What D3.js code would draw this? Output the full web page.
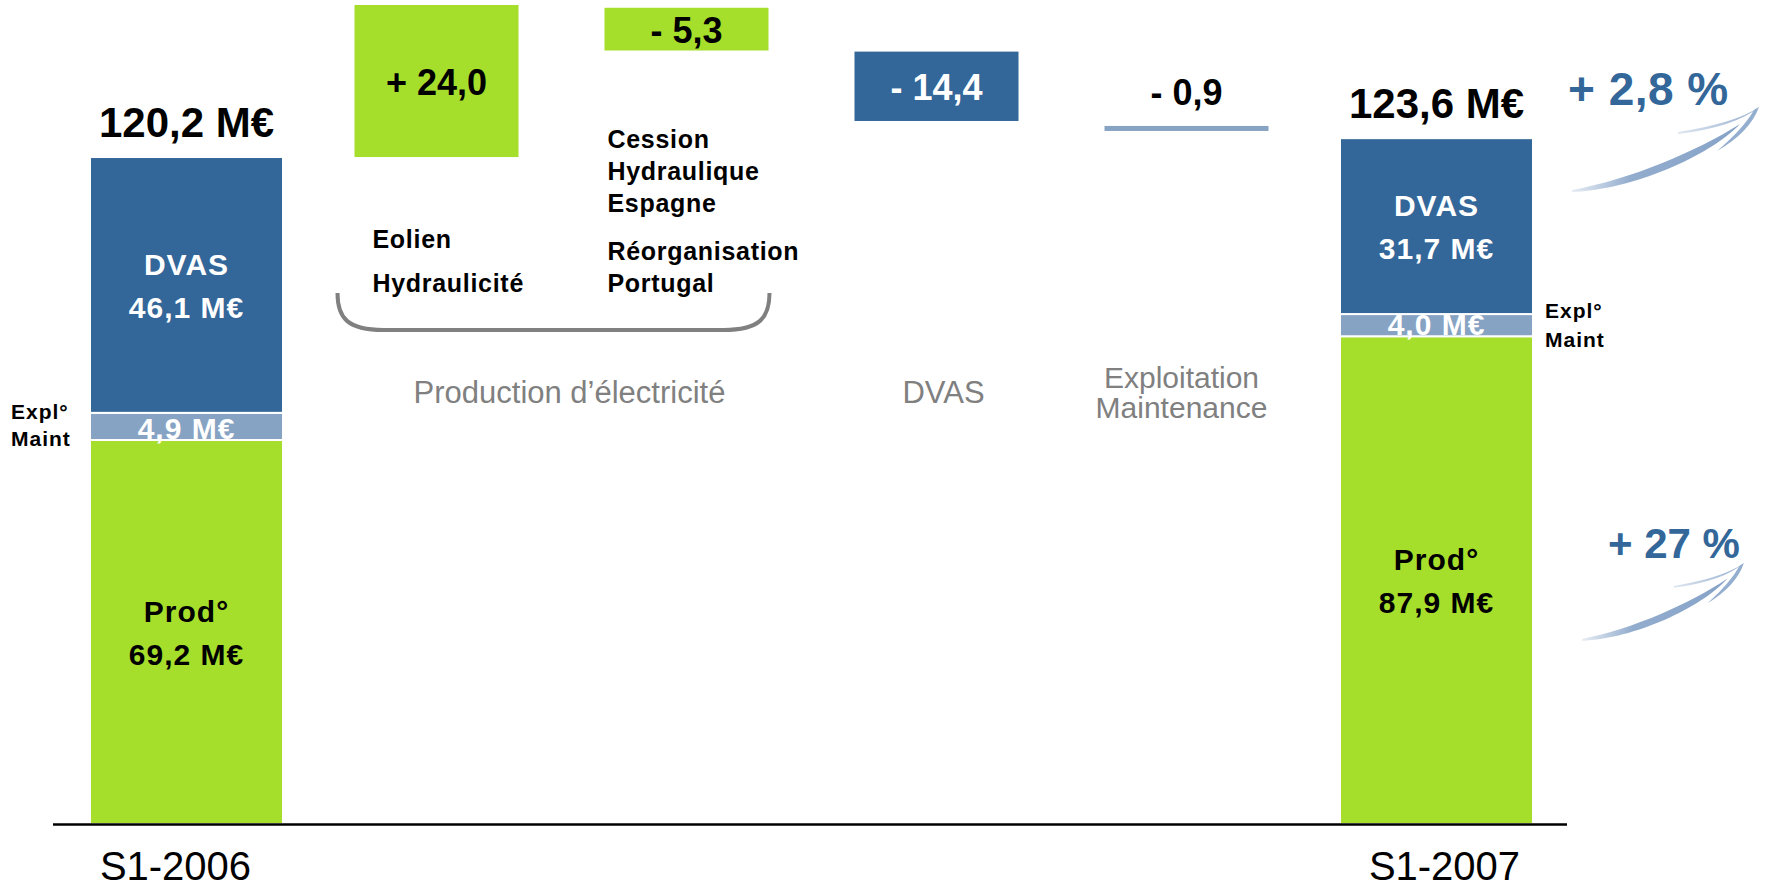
<!DOCTYPE html>
<html>
<head>
<meta charset="utf-8">
<script src="https://cdn.jsdelivr.net/npm/d3@7"></script>
<style>
  html, body { margin: 0; padding: 0; background: #ffffff; }
  svg { display: block; }
</style>
</head>
<body>
<script>
// ---------------- data ----------------
const periods = ["S1-2006", "S1-2007"];
const segmentKeys = ["prod", "expl", "dvas"];
const segmentNames = { prod: "Prod°", expl: "Expl° Maint", dvas: "DVAS" };
const prodValues = [69.2, 87.9];
const explValues = [4.9, 4.0];
const dvasValues = [46.1, 31.7];

const stepKeys = ["eolien", "cession", "dvasStep", "explStep"];
const stepValues = [24.0, -5.3, -14.4, -0.9];
// drawn extents of the floating bars (the original is not to scale)
const stepFrom = [120.2, 147.1, 139.2, 125.8];
const stepTo = [147.6, 139.4, 126.7, 124.9];
const stepKinds = ["prod", "prod", "dvas", "expl"];

const stepNotesLeft = ["Eolien", "Hydraulicité"];
const stepNotesRight = ["Cession", "Hydraulique", "Espagne", "Réorganisation", "Portugal"];
const groupLabels = ["Production d’électricité", "DVAS", "Exploitation\nMaintenance"];
const growthLabels = ["+ 2,8 %", "+ 27 %"];
const sideLabel = ["Expl°", "Maint"];

// ---------------- setup ----------------
const W = 1769, H = 889;
const FONT = "'Liberation Sans', Arial, Helvetica, sans-serif";
const colors = { prod: "#A6DE2C", expl: "#87A3C3", dvas: "#336699" };
const blue = "#336699";
const fmt = v => d3.format(".1f")(v).replace(".", ",");

const svg = d3.select("body").append("svg")
  .attr("width", W).attr("height", H)
  .style("font-family", FONT);

const defs = svg.append("defs");
const grad = defs.append("linearGradient").attr("id", "swg")
  .attr("x1", "0").attr("y1", "0").attr("x2", "1").attr("y2", "0");
grad.append("stop").attr("offset", "0").attr("stop-color", "#86A3C8").attr("stop-opacity", 0.2);
grad.append("stop").attr("offset", "0.35").attr("stop-color", "#86A3C8").attr("stop-opacity", 0.9);
grad.append("stop").attr("offset", "1").attr("stop-color", "#86A3C8").attr("stop-opacity", 1);
const grad2 = defs.append("linearGradient").attr("id", "swg2")
  .attr("x1", "0").attr("y1", "0").attr("x2", "1").attr("y2", "0");
grad2.append("stop").attr("offset", "0").attr("stop-color", "#94AECF").attr("stop-opacity", 0.3);
grad2.append("stop").attr("offset", "1").attr("stop-color", "#94AECF").attr("stop-opacity", 1);

const slots = [periods[0], ...stepKeys, periods[1]];
const x = d3.scalePoint().domain(slots).range([186.5, 1436.5]);
const y = d3.scaleLinear().domain([0, 148.5]).range([824, 0]);
const totalW = 193, stepW = 164;

// ---------------- stacked total bars ----------------
const table = periods.map((p, i) => ({
  period: p, prod: prodValues[i], expl: explValues[i], dvas: dvasValues[i]
}));
const stacked = d3.stack().keys(segmentKeys)(table);

const gBars = svg.append("g");
stacked.forEach(series => {
  gBars.selectAll(null).data(series).enter().append("rect")
    .attr("x", d => x(d.data.period) - totalW / 2)
    .attr("width", totalW)
    .attr("y", d => y(d[1]))
    .attr("height", d => y(d[0]) - y(d[1]))
    .attr("fill", colors[series.key])
    .attr("stroke", "#ffffff")
    .attr("stroke-width", 2);
});

// segment labels
const segLabelStyle = sel => sel
  .attr("text-anchor", "middle")
  .attr("font-weight", "bold")
  .attr("font-size", 30)
  .attr("letter-spacing", 1);

stacked.forEach(series => {
  series.forEach(d => {
    const cx = x(d.data.period);
    const top = y(d[1]), bot = y(d[0]);
    const mid = (top + bot) / 2;
    const val = fmt(d[1] - d[0]) + " M€";
    if (series.key === "expl") {
      gBars.append("text").call(segLabelStyle)
        .attr("x", cx).attr("y", bot - 1.5)
        .attr("fill", "#ffffff").text(val);
    } else {
      const col = series.key === "dvas" ? "#ffffff" : "#000000";
      gBars.append("text").call(segLabelStyle)
        .attr("x", cx).attr("y", mid - 10).attr("fill", col)
        .text(segmentNames[series.key]);
      gBars.append("text").call(segLabelStyle)
        .attr("x", cx).attr("y", mid + 33).attr("fill", col)
        .text(val);
    }
  });
});

// total labels
table.forEach(d => {
  const total = d.prod + d.expl + d.dvas;
  svg.append("text")
    .attr("x", x(d.period)).attr("y", y(total) - 20)
    .attr("text-anchor", "middle")
    .attr("font-weight", "bold").attr("font-size", 42)
    .attr("fill", "#000").text(fmt(total) + " M€");
});

// side labels "Expl° / Maint"
table.forEach((d, i) => {
  const mid = (y(d.prod) + y(d.prod + d.expl)) / 2;
  const sx = i === 0 ? 11 : x(d.period) + totalW / 2 + 12;
  sideLabel.forEach((t, j) => {
    svg.append("text")
      .attr("x", sx).attr("y", mid - 7 + j * (i === 0 ? 27 : 29))
      .attr("font-weight", "bold").attr("font-size", 21)
      .attr("letter-spacing", 1)
      .attr("fill", "#000").text(t);
  });
});

// ---------------- floating step bars ----------------
const steps = stepKeys.map((k, i) => ({
  key: k, value: stepValues[i], from: stepFrom[i], to: stepTo[i], kind: stepKinds[i]
}));
const gSteps = svg.append("g");
gSteps.selectAll("rect").data(steps).enter().append("rect")
  .attr("x", d => x(d.key) - stepW / 2)
  .attr("width", stepW)
  .attr("y", d => y(Math.max(d.from, d.to)))
  .attr("height", d => Math.abs(y(d.from) - y(d.to)))
  .attr("fill", d => colors[d.kind]);

gSteps.selectAll("text").data(steps).enter().append("text")
  .attr("x", d => x(d.key))
  .attr("y", d => {
    const top = y(Math.max(d.from, d.to)), bot = y(Math.min(d.from, d.to));
    return (bot - top) > 30 ? (top + bot) / 2 + 14 : top - 21;
  })
  .attr("text-anchor", "middle")
  .attr("font-weight", "bold").attr("font-size", 36)
  .attr("fill", d => d.kind === "dvas" ? "#ffffff" : "#000000")
  .text(d => (d.value > 0 ? "+ " : "- ") + fmt(Math.abs(d.value)));

// step notes
const noteStyle = sel => sel
  .attr("font-weight", "bold").attr("font-size", 25)
  .attr("letter-spacing", 0.7).attr("fill", "#000");
const nxL = x(stepKeys[0]) - stepW / 2 + 18;
[248, 292].forEach((by, j) => {
  svg.append("text").call(noteStyle).attr("x", nxL).attr("y", by).text(stepNotesLeft[j]);
});
const nxR = x(stepKeys[1]) - stepW / 2 + 3;
[148, 180, 212, 260, 292].forEach((by, j) => {
  svg.append("text").call(noteStyle).attr("x", nxR).attr("y", by).text(stepNotesRight[j]);
});

// brace under the production steps
const bL = x(stepKeys[0]) - stepW / 2 - 17;
const bR = x(stepKeys[1]) + stepW / 2 + 1;
svg.append("path")
  .attr("d", `M${bL},293 C${bL},318 ${bL + 10},330 ${bL + 46},330 L${bR - 46},330 C${bR - 10},330 ${bR},318 ${bR},293`)
  .attr("fill", "none").attr("stroke", "#808080").attr("stroke-width", 4);

// group labels (gray)
const grayStyle = sel => sel
  .attr("text-anchor", "middle").attr("font-size", 31).attr("fill", "#808080");
svg.append("text").call(grayStyle)
  .attr("x", (x(stepKeys[0]) + x(stepKeys[1])) / 2 + 8).attr("y", 403)
  .text(groupLabels[0]);
svg.append("text").call(grayStyle)
  .attr("x", x(stepKeys[2]) + 7).attr("y", 403).text(groupLabels[1]);
groupLabels[2].split("\n").forEach((t, j) => {
  svg.append("text").call(grayStyle)
    .attr("font-size", 30)
    .attr("x", x(stepKeys[3]) - 5).attr("y", 388 + j * 30).text(t);
});

// ---------------- baseline & period labels ----------------
svg.append("line")
  .attr("x1", 53).attr("x2", 1567)
  .attr("y1", y(0) + 0.5).attr("y2", y(0) + 0.5)
  .attr("stroke", "#000").attr("stroke-width", 2.5);

const periodOffsets = [-11, 8];
periods.forEach((p, i) => {
  svg.append("text")
    .attr("x", x(p) + periodOffsets[i]).attr("y", 880)
    .attr("text-anchor", "middle").attr("font-size", 40)
    .attr("fill", "#000").text(p);
});

// ---------------- growth annotations ----------------
const rightEdge = x(periods[1]) + totalW / 2;
svg.append("text")
  .attr("x", rightEdge + 35).attr("y", 105)
  .attr("font-weight", "bold").attr("font-size", 46).attr("letter-spacing", 0.5)
  .attr("fill", blue).text(growthLabels[0]);
svg.append("text")
  .attr("x", rightEdge + 75).attr("y", 558)
  .attr("font-weight", "bold").attr("font-size", 42)
  .attr("fill", blue).text(growthLabels[1]);

function swoosh(tx, ty, sx, sy) {
  const g = svg.append("g").attr("transform", `translate(${tx},${ty}) scale(${sx},${sy})`);
  g.append("path")
    .attr("d", "M0,0 C60,-11 125,-39 168,-66 C138,-34 60,0 0,2 Z")
    .attr("fill", "url(#swg)");
  g.append("path")
    .attr("d", "M106,-58 Q164,-67 187,-83 Q163,-63 106,-56 Z")
    .attr("fill", "url(#swg2)");
  g.append("path")
    .attr("d", "M187,-83 Q178,-58 145,-39 Q171,-61 182,-80 Z")
    .attr("fill", "#94AECF");
}
swoosh(rightEdge + 39, 190, 1, 1);
swoosh(rightEdge + 49, 639, 0.866, 0.915);
</script>
</body>
</html>
